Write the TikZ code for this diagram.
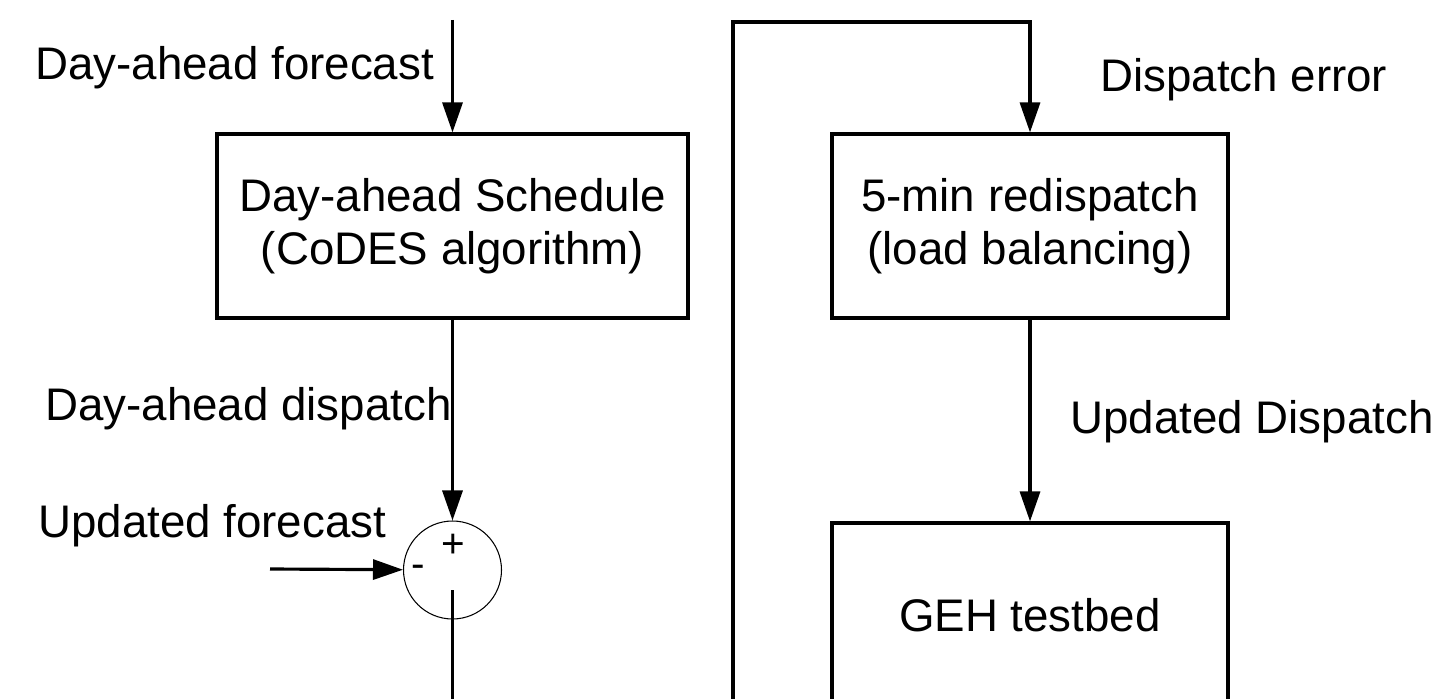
\documentclass[tikz,border=0pt]{standalone}
\usepackage{fontspec}
\setmainfont{Liberation Sans}
\usetikzlibrary{arrows.meta}

\begin{document}
\begin{tikzpicture}[x=0.02cm, y=-0.02cm,
        block/.style={rectangle, draw, line width=1.8pt, minimum height=3.68cm, align=center, font=\fontsize{26}{30}\selectfont},
        sum/.style={circle, draw, line width=0.6pt, minimum size=1.96cm},
        sig/.style={font=\fontsize{26}{30}\selectfont, inner sep=0pt, anchor=base west},
        sign/.style={font=\fontsize{23}{26}\selectfont, inner sep=0pt},
        wire/.style={line width=1.8pt},
        flow/.style={wire, -{Triangle[length=0.6cm, width=0.4cm]}}
    ]
        \useasboundingbox (0,0) rectangle (1439,699);
        \clip (0,0) rectangle (1439,699);

        % Blocks
        \node[block, minimum width=9.42cm] (sched) at (452.5,226) {Day-ahead Schedule\\(CoDES algorithm)};
        \node[block, minimum width=7.92cm] (redisp) at (1030,226) {5-min redispatch\\(load balancing)};
        \node[block, minimum width=7.92cm] (geh) at (1030,615) {GEH testbed};

        % Summing junction
        \node[sum] (sum) at (452.5,570) {};
        \node[sign] (plus) at (453,546) {+};
        \node[sign] (minus) at (418,571) {-};

        % Free ends
        \coordinate (fcin) at (452.5,20);
        \coordinate (ufin) at (270,569);
        \coordinate (out) at (452.5,720);
        \coordinate (fbin) at (733,720);
        \coordinate (fbtop) at (733,22);

        % Signal labels
        \node[sig] (lfc) at (35,80) {Day-ahead forecast};
        \node[sig] (ldisp) at (45,420) {Day-ahead dispatch};
        \node[sig] (lufc) at (38,537) {Updated forecast};
        \node[sig] (lerr) at (1100,92) {Dispatch error};
        \node[sig, anchor=base east] (ludisp) at (1434,433) {Updated Dispatch};

        \draw[flow] (fcin) -- (sched);
        \draw[flow] (sched) -- (sum);
        \draw[flow] (ufin) -- (sum);
        \draw[wire] ([yshift=-0.4cm]sum.center) -- (out);
        \draw[flow] (fbin) -- (fbtop) -| (redisp);
        \draw[flow] (redisp) -- (geh);
    \end{tikzpicture}
\end{document}
